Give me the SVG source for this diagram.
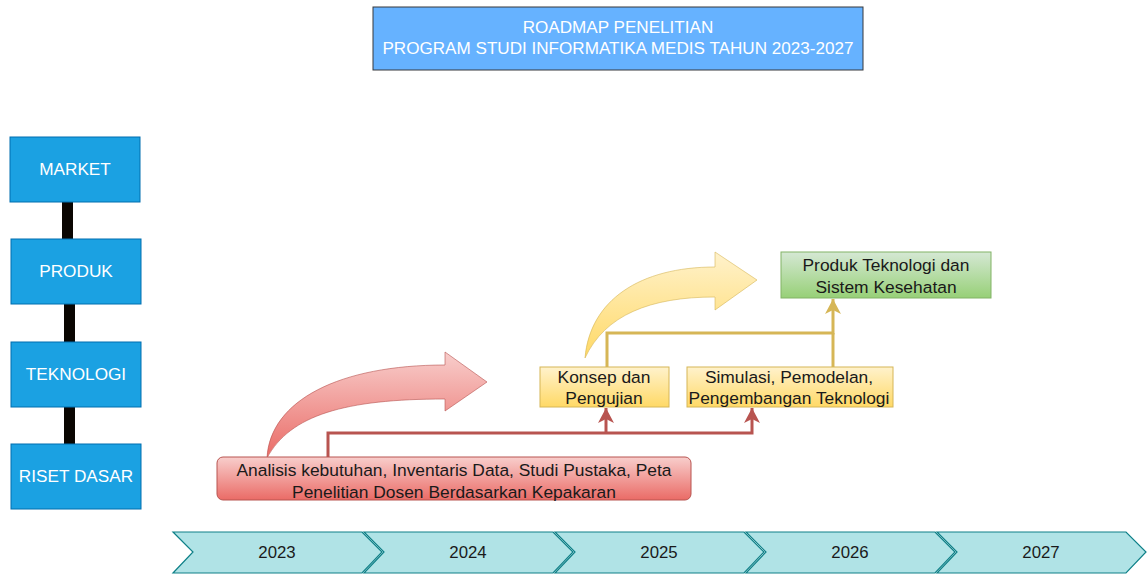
<svg xmlns="http://www.w3.org/2000/svg" width="1148" height="574" viewBox="0 0 1148 574">
<style>
text{font-family:"Liberation Sans",Arial,sans-serif;font-size:17.4px;text-anchor:middle}
.lvl{fill:#1ba1e2;stroke:#006eaf;stroke-width:1}
.lvlt{fill:#ffffff;font-size:17.2px}
.ttl{fill:#ffffff;font-size:17.1px}
.yr{font-size:16.8px}
.step{fill:#b0e3e6;stroke:#0e8088;stroke-width:1.2}
.dark{fill:#1a1a1a}
</style>
<defs>
<linearGradient id="gRed" x1="0" y1="0" x2="0" y2="1"><stop offset="0" stop-color="#f8cecc"/><stop offset="1" stop-color="#ea6b66"/></linearGradient>
<linearGradient id="gYel" x1="0" y1="0" x2="0" y2="1"><stop offset="0" stop-color="#fff2cc"/><stop offset="1" stop-color="#ffd966"/></linearGradient>
<linearGradient id="gGrn" x1="0" y1="0" x2="0" y2="1"><stop offset="0" stop-color="#d5e8d4"/><stop offset="1" stop-color="#97d077"/></linearGradient>
<marker id="mRed" viewBox="0 0 16 16" refX="15" refY="8" markerWidth="16" markerHeight="16" markerUnits="userSpaceOnUse" orient="auto">
<path d="M15,8 L0,0 L4,8 L0,16 Z" fill="#b85450"/>
</marker>
<marker id="mYel" viewBox="0 0 16 16" refX="15" refY="8" markerWidth="16" markerHeight="16" markerUnits="userSpaceOnUse" orient="auto">
<path d="M15,8 L0,0 L4,8 L0,16 Z" fill="#d6b656"/>
</marker>
</defs>

<g id="title">
<rect x="373" y="7" width="490" height="63" fill="#66b2ff" stroke="#36393d" stroke-width="1"/>
<text class="ttl" x="618" y="33">ROADMAP PENELITIAN</text>
<text class="ttl" x="618" y="54">PROGRAM STUDI INFORMATIKA MEDIS TAHUN 2023-2027</text>
</g>

<g id="levels-links">
<rect x="62" y="202" width="11" height="37" fill="#0a0602"/>
<rect x="64" y="304" width="11" height="38" fill="#0a0602"/>
<rect x="64" y="407" width="11" height="37" fill="#0a0602"/>
</g>
<g id="market"><rect class="lvl" x="10" y="137" width="130" height="65"/><text class="lvlt" x="75" y="175">MARKET</text></g>
<g id="produk"><rect class="lvl" x="11" y="239" width="130" height="65"/><text class="lvlt" x="76" y="277">PRODUK</text></g>
<g id="teknologi"><rect class="lvl" x="11" y="342" width="130" height="65"/><text class="lvlt" x="76" y="380">TEKNOLOGI</text></g>
<g id="riset-dasar"><rect class="lvl" x="11" y="444" width="130" height="65"/><text class="lvlt" x="76" y="482">RISET DASAR</text></g>

<g id="curved-arrow-red">
<path d="M267,458 C270,400 340,365 445,365 L445,352 L487,382 L445,411 L445,399 C345,399 290,415 267,458 Z" fill="url(#gRed)" stroke="#b85450" stroke-width="1" stroke-opacity="0.6"/>
</g>
<g id="curved-arrow-yellow">
<path d="M585,358 C590,300 640,267 715,267 L715,252 L757,280 L715,310 L715,297 C650,297 605,315 585,358 Z" fill="url(#gYel)" stroke="#d6b656" stroke-width="1" stroke-opacity="0.6"/>
</g>

<g id="connectors" fill="none" stroke-width="3">
<path d="M328,457 V433 H752 V408" stroke="#b85450" marker-end="url(#mRed)"/>
<path d="M606,433 V408" stroke="#b85450" marker-end="url(#mRed)"/>
<path d="M607,367 V333 H833 V299" stroke="#d6b656" marker-end="url(#mYel)"/>
<path d="M833,367 V333" stroke="#d6b656"/>
</g>

<g id="riset-box">
<rect x="217" y="457" width="474" height="43" rx="6" fill="url(#gRed)" stroke="#b85450" stroke-width="1"/>
<text class="dark" x="454" y="476">Analisis kebutuhan, Inventaris Data, Studi Pustaka, Peta</text>
<text class="dark" x="454" y="498">Penelitian Dosen Berdasarkan Kepakaran</text>
</g>
<g id="konsep">
<rect x="540" y="367" width="129" height="40" fill="url(#gYel)" stroke="#d6b656" stroke-width="1"/>
<text class="dark" x="604" y="383">Konsep dan</text>
<text class="dark" x="604" y="404">Pengujian</text>
</g>
<g id="simulasi">
<rect x="687" y="367" width="206" height="40" fill="url(#gYel)" stroke="#d6b656" stroke-width="1"/>
<text class="dark" x="789" y="383">Simulasi, Pemodelan,</text>
<text class="dark" x="789" y="404">Pengembangan Teknologi</text>
</g>
<g id="produk-teknologi">
<rect x="781" y="252" width="210" height="46" fill="url(#gGrn)" stroke="#82b366" stroke-width="1"/>
<text class="dark" x="886" y="271">Produk Teknologi dan</text>
<text class="dark" x="886" y="293">Sistem Kesehatan</text>
</g>

<g id="timeline">
<g id="y2023"><polygon class="step" points="173,532 362,532 382,552 362,573 173,573 193,552"/><text class="dark yr" x="277" y="558">2023</text></g>
<g id="y2024"><polygon class="step" points="364,532 553,532 573,552 553,573 364,573 384,552"/><text class="dark yr" x="468" y="558">2024</text></g>
<g id="y2025"><polygon class="step" points="555,532 744,532 764,552 744,573 555,573 575,552"/><text class="dark yr" x="659" y="558">2025</text></g>
<g id="y2026"><polygon class="step" points="746,532 935,532 955,552 935,573 746,573 766,552"/><text class="dark yr" x="850" y="558">2026</text></g>
<g id="y2027"><polygon class="step" points="937,532 1126,532 1146,552 1126,573 937,573 957,552"/><text class="dark yr" x="1041" y="558">2027</text></g>
</g>
</svg>
